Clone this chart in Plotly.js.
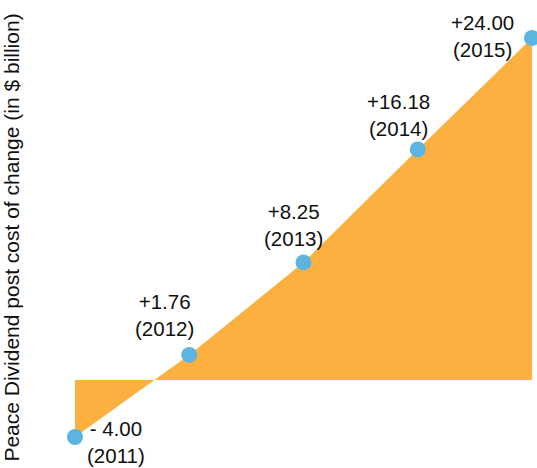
<!DOCTYPE html>
<html>
<head>
<meta charset="utf-8">
<script src="https://cdn.plot.ly/plotly-3.0.1.min.js"></script>
<style>html,body{margin:0;padding:0;background:#fff;}#chart{width:537px;height:468px;}</style>
</head>
<body>
<div id="chart"></div>
<script>
var years = [2011, 2012, 2013, 2014, 2015];
var values = [-4.00, 1.76, 8.25, 16.18, 24.00];
var valueLabels = ["- 4.00", "+1.76", "+8.25", "+16.18", "+24.00"];
var yTitle = "Peace Dividend post cost of change (in $ billion)";

var labelShiftX = [41, -25, -10, -19, -50];
var labelShiftY = [-5, 40, 37, 34, 2];

var fillTrace = {
  x: years, y: values, type: 'scatter', mode: 'lines',
  fill: 'tozeroy', fillcolor: '#FBB040',
  line: {color: '#FBB040', width: 0},
  hoverinfo: 'skip', showlegend: false
};
var pointTrace = {
  x: years, y: values, type: 'scatter', mode: 'markers',
  marker: {color: '#5BB5E0', size: 16},
  cliponaxis: false, showlegend: false
};

var annotations = years.map(function (yr, i) {
  return {
    x: yr, y: values[i], xref: 'x', yref: 'y',
    text: valueLabels[i] + '<br>(' + yr + ')',
    showarrow: false, xanchor: 'center', yanchor: 'middle',
    xshift: labelShiftX[i], yshift: labelShiftY[i],
    font: {family: 'Liberation Sans, Arial, sans-serif', size: 20.5, color: '#111'}
  };
});

var layout = {
  width: 537, height: 468,
  margin: {l: 75, r: 5, t: 38, b: 31},
  paper_bgcolor: '#fff', plot_bgcolor: '#fff',
  showlegend: false,
  font: {family: 'Liberation Sans, Arial, sans-serif'},
  xaxis: {range: [2011, 2015], visible: false, showgrid: false, zeroline: false, fixedrange: true},
  yaxis: {
    range: [-4, 24], showgrid: false, zeroline: false, showline: false,
    showticklabels: false, ticks: '', fixedrange: true,
    title: {text: yTitle, standoff: 50, font: {size: 21, color: '#111'}}
  },
  annotations: annotations
};

Plotly.newPlot('chart', [fillTrace, pointTrace], layout, {displayModeBar: false, staticPlot: true});
</script>
</body>
</html>
